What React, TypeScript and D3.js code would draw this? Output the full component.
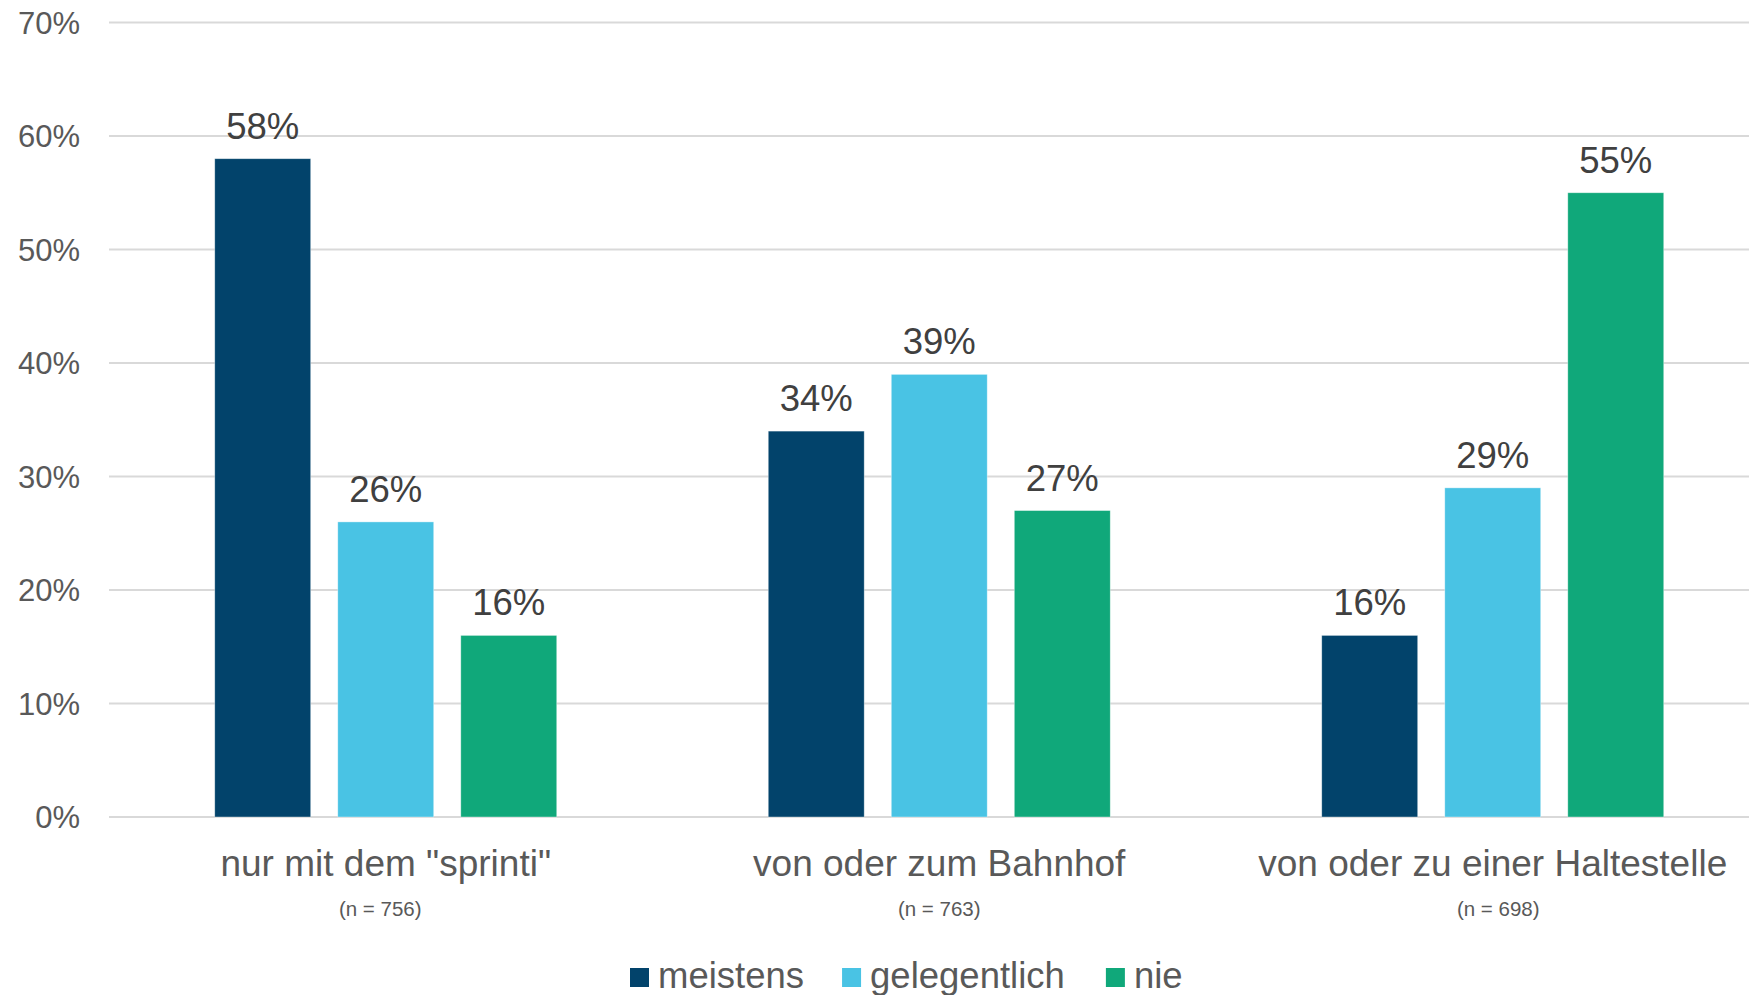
import React, { useRef, useEffect } from 'react';
import * as d3 from 'd3';

const categories = ['nur mit dem "sprinti"', 'von oder zum Bahnhof', 'von oder zu einer Haltestelle'];
const sampleSizes = ['(n = 756)', '(n = 763)', '(n = 698)'];
const seriesNames = ['meistens', 'gelegentlich', 'nie'];
const meistens = [58, 34, 16];
const gelegentlich = [26, 39, 29];
const nie = [16, 27, 55];
const yTicks = [0, 10, 20, 30, 40, 50, 60, 70];

const seriesColors = ['#02436B', '#49C3E4', '#10A87A'];

const WIDTH = 1749;
const HEIGHT = 995;
const FONT = '"Liberation Sans", Arial, Helvetica, sans-serif';

const App: React.FC = () => {
  const svgRef = useRef<SVGSVGElement>(null);

  useEffect(() => {
    if (!svgRef.current) return;
    const svg = d3.select(svgRef.current);
    svg.selectAll('*').remove();

    const seriesValues = [meistens, gelegentlich, nie];

    // plot area (right side runs past the picture edge, like the source)
    const left = 109;
    const right = 1769.5;
    const top = 22.5;
    const bottom = 817;

    const x0 = d3.scaleBand<string>().domain(categories).range([left, right]).padding(0);
    const groupPad = 105.75;
    const x1 = d3.scaleBand<string>()
      .domain(seriesNames)
      .range([groupPad, x0.bandwidth() - groupPad])
      .paddingInner(0.22)
      .paddingOuter(0);
    const y = d3.scaleLinear().domain([0, 70]).range([bottom, top]);

    // gridlines
    svg.append('g')
      .selectAll('line')
      .data(yTicks)
      .enter()
      .append('line')
      .attr('x1', left)
      .attr('x2', WIDTH)
      .attr('y1', d => y(d))
      .attr('y2', d => y(d))
      .attr('stroke', '#D9D9D9')
      .attr('stroke-width', 2);

    // y tick labels
    svg.append('g')
      .selectAll('text')
      .data(yTicks)
      .enter()
      .append('text')
      .attr('x', 80)
      .attr('y', d => y(d) + 11)
      .attr('text-anchor', 'end')
      .attr('font-family', FONT)
      .attr('font-size', 31)
      .attr('fill', '#595959')
      .text(d => `${d}%`);

    // bars + value labels
    seriesNames.forEach((name, si) => {
      const g = svg.append('g').attr('class', `series-${si}`);
      g.selectAll('rect')
        .data(seriesValues[si])
        .enter()
        .append('rect')
        .attr('x', (d, i) => (x0(categories[i]) || 0) + (x1(name) || 0))
        .attr('y', d => y(d))
        .attr('width', x1.bandwidth())
        .attr('height', d => bottom - y(d))
        .attr('fill', seriesColors[si])
        .attr('stroke', '#ffffff')
        .attr('stroke-opacity', 0.5)
        .attr('stroke-width', 0.75);

      g.selectAll('text')
        .data(seriesValues[si])
        .enter()
        .append('text')
        .attr('x', (d, i) => (x0(categories[i]) || 0) + (x1(name) || 0) + x1.bandwidth() / 2)
        .attr('y', d => y(d) - 20)
        .attr('text-anchor', 'middle')
        .attr('font-family', FONT)
        .attr('font-size', 36.5)
        .attr('fill', '#404040')
        .text(d => `${d}%`);
    });

    // category labels
    svg.append('g')
      .selectAll('text')
      .data(categories)
      .enter()
      .append('text')
      .attr('x', d => (x0(d) || 0) + x0.bandwidth() / 2)
      .attr('y', 876)
      .attr('text-anchor', 'middle')
      .attr('font-family', FONT)
      .attr('font-size', 37)
      .attr('fill', '#595959')
      .text(d => d);

    // sample sizes under the category labels
    svg.append('g')
      .selectAll('text')
      .data(sampleSizes)
      .enter()
      .append('text')
      .attr('x', (d, i) => (x0(categories[i]) || 0) + x0.bandwidth() / 2 + (i - 1) * 5.5)
      .attr('y', 916)
      .attr('text-anchor', 'middle')
      .attr('font-family', FONT)
      .attr('font-size', 20.5)
      .attr('fill', '#595959')
      .text(d => d);

    // legend
    const legend = svg.append('g').attr('class', 'legend');
    const legendGaps = [38, 41];
    let lx = 630;
    seriesNames.forEach((name, i) => {
      legend.append('rect')
        .attr('x', lx)
        .attr('y', 968)
        .attr('width', 19)
        .attr('height', 19)
        .attr('fill', seriesColors[i]);
      const t = legend.append('text')
        .attr('x', lx + 28)
        .attr('y', 988)
        .attr('font-family', FONT)
        .attr('font-size', 36.5)
        .attr('fill', '#595959')
        .text(name);
      const w = (t.node() as SVGTextElement).getComputedTextLength();
      lx = lx + 28 + w + (legendGaps[i] || 0);
    });
  }, []);

  return (
    <svg
      ref={svgRef}
      width={WIDTH}
      height={HEIGHT}
      style={{ position: 'absolute', left: 0, top: 0, display: 'block', background: '#ffffff' }}
    />
  );
};

export default App;
